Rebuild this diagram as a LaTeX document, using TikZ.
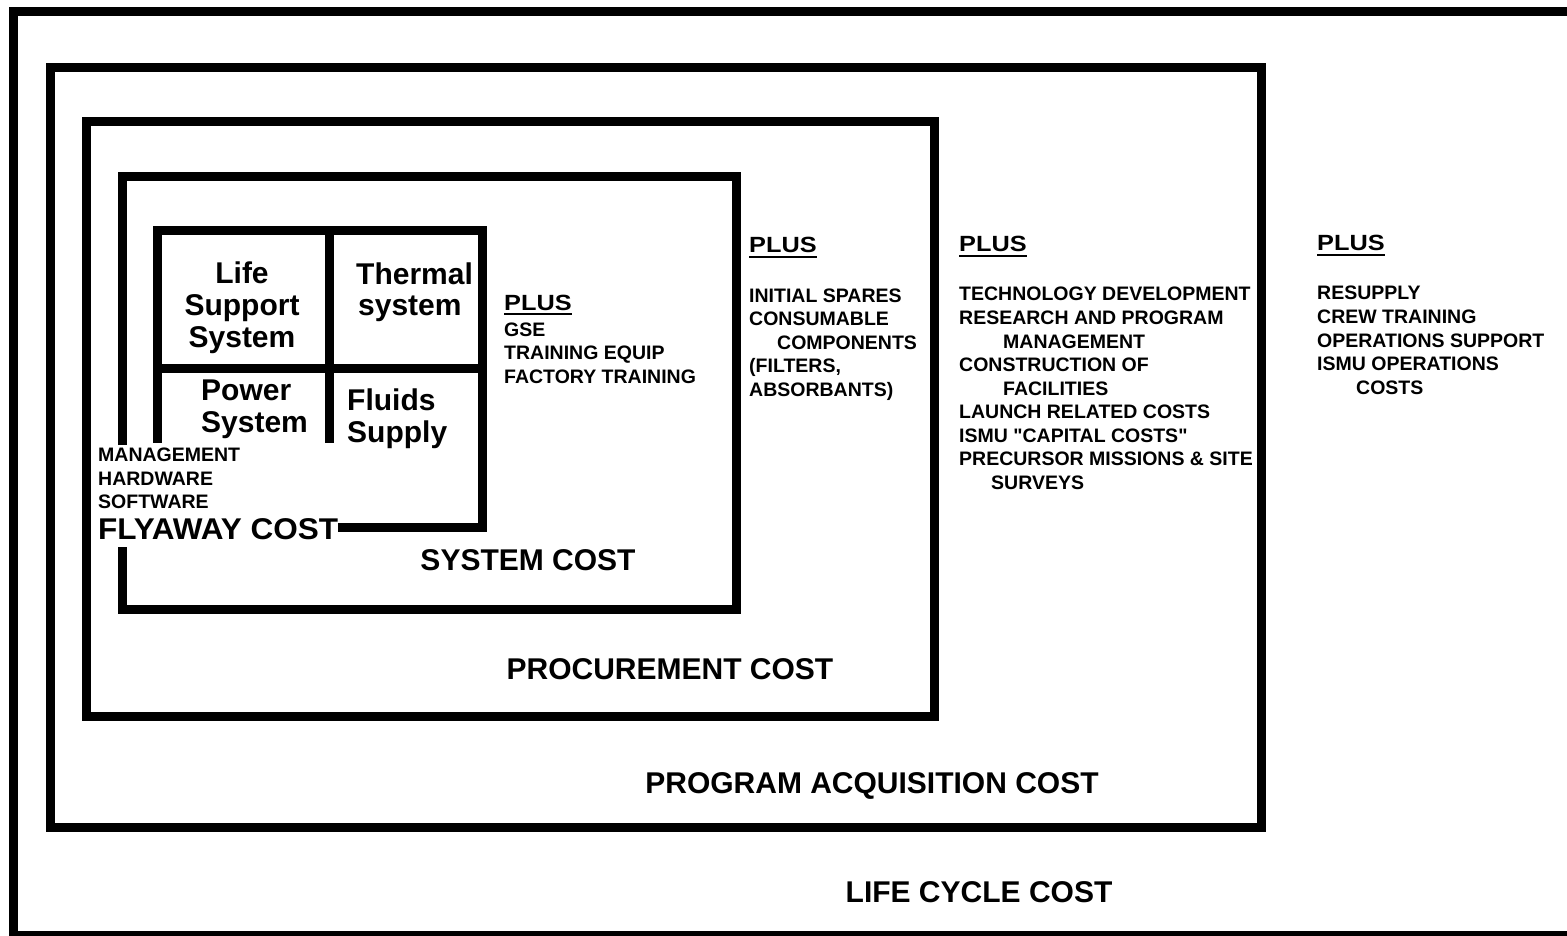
\documentclass[tikz,border=0pt]{standalone}
\usepackage{fontspec}
\setmainfont{Liberation Sans}
\begin{document}
\begin{tikzpicture}[x=1pt,y=-1pt,
  boxline/.style={line width=9pt, line cap=butt, line join=miter},
  sm/.style={font=\fontsize{19.5}{23.5}\selectfont\bfseries, inner sep=0pt, anchor=base west},
  big/.style={font=\fontsize{30}{32}\selectfont\bfseries, inner sep=0pt, anchor=base},
  bigl/.style={big, anchor=base west},
  plushead/.style={font=\fontsize{22}{24}\selectfont\bfseries, inner sep=0pt, anchor=base west},
  uline/.style={line width=2.5pt}]
\useasboundingbox (0,0) rectangle (1567,936);
\fill[white] (0,0) rectangle (1567,936);
\clip (0,0) rectangle (1567,936);

% life cycle frame (open to the right, cut by the page)
\draw[boxline] (1580,12) -- (13,12) -- (13,935) -- (1580,935);
% program acquisition box
\draw[boxline] (50,68) rectangle (1261,827);
% procurement box
\draw[boxline] (86,122) rectangle (934,716);
% system box (gap on left for labels)
\draw[boxline] (122,445) -- (122,177) -- (736,177) -- (736,609) -- (122,609) -- (122,547);

% flyaway cells
\node[big] (life1) at (242,283.5) {Life};
\node[big] (life2) at (242,315.5) {Support};
\node[big] (life3) at (242,347.5) {System};
\node[bigl] (th1) at (356,284) {Thermal};
\node[bigl] (th2) at (358,316) {system};
\node[bigl] (pw1) at (201,400) {Power};
\node[bigl] (pw2) at (201,432) {System};
\node[bigl] (fl1) at (347,410) {Fluids};
\node[bigl] (fl2) at (347,442) {Supply};
\node[sm] (m1) at (98,461) {MANAGEMENT};
\node[sm] (m2) at (98,485) {HARDWARE};
\node[sm] (m3) at (98,508) {SOFTWARE};
\node[bigl] (fly) at (98,539) {\scalebox{1.05}[1]{FLYAWAY COST}};

% flyaway box
\coordinate (flyend) at (482,527);
\draw[boxline] (fly.east |- flyend) -- (flyend) -- (482,231) -- (157,231) -- (157,443);
\draw[boxline] (329,231) -- (329,443);
\draw[boxline] (157,368) -- (482,368);

% cost labels
\node[big] (sys) at (528,570) {SYSTEM COST};
\node[big] (proc) at (670,679) {PROCUREMENT COST};
\node[big] (pac) at (872,793) {PROGRAM ACQUISITION COST};
\node[big] (lcc) at (979,902) {LIFE CYCLE COST};

% column 1
\node[plushead] (p1) at (504,310) {\scalebox{1.15}[1]{PLUS}};
\draw[uline] ([yshift=-4pt]p1.base west) -- ([yshift=-4pt]p1.base east);
\node[sm] (a1) at (504,336) {GSE};
\node[sm] (a2) at (504,359) {TRAINING EQUIP};
\node[sm] (a3) at (504,383) {FACTORY TRAINING};

% column 2
\node[plushead] (p2) at (749,253) {\scalebox{1.15}[1]{PLUS}};
\draw[uline] ([yshift=-4pt]p2.base west) -- ([yshift=-4pt]p2.base east);
\node[sm] (b1) at (749,302) {INITIAL SPARES};
\node[sm] (b2) at (749,325.5) {CONSUMABLE};
\node[sm] (b3) at (777,349) {COMPONENTS};
\node[sm] (b4) at (749,372.5) {(FILTERS,};
\node[sm] (b5) at (749,396) {ABSORBANTS)};

% column 3
\node[plushead] (p3) at (959,252) {\scalebox{1.15}[1]{PLUS}};
\draw[uline] ([yshift=-4pt]p3.base west) -- ([yshift=-4pt]p3.base east);
\node[sm] (c1) at (959,301) {TECHNOLOGY DEVELOPMENT};
\node[sm] (c2) at (959,324.5) {RESEARCH AND PROGRAM};
\node[sm] (c3) at (1003,348) {MANAGEMENT};
\node[sm] (c4) at (959,371.5) {CONSTRUCTION OF};
\node[sm] (c5) at (1003,395) {FACILITIES};
\node[sm] (c6) at (959,418.5) {LAUNCH RELATED COSTS};
\node[sm] (c7) at (959,442) {ISMU \textquotedbl CAPITAL COSTS\textquotedbl};
\node[sm] (c8) at (959,465.5) {PRECURSOR MISSIONS \& SITE};
\node[sm] (c9) at (991,489) {SURVEYS};

% column 4
\node[plushead] (p4) at (1317,251) {\scalebox{1.15}[1]{PLUS}};
\draw[uline] ([yshift=-4pt]p4.base west) -- ([yshift=-4pt]p4.base east);
\node[sm] (d1) at (1317,300) {RESUPPLY};
\node[sm] (d2) at (1317,323.5) {CREW TRAINING};
\node[sm] (d3) at (1317,347) {OPERATIONS SUPPORT};
\node[sm] (d4) at (1317,370.5) {ISMU OPERATIONS};
\node[sm] (d5) at (1356,394) {COSTS};
\end{tikzpicture}
\end{document}
